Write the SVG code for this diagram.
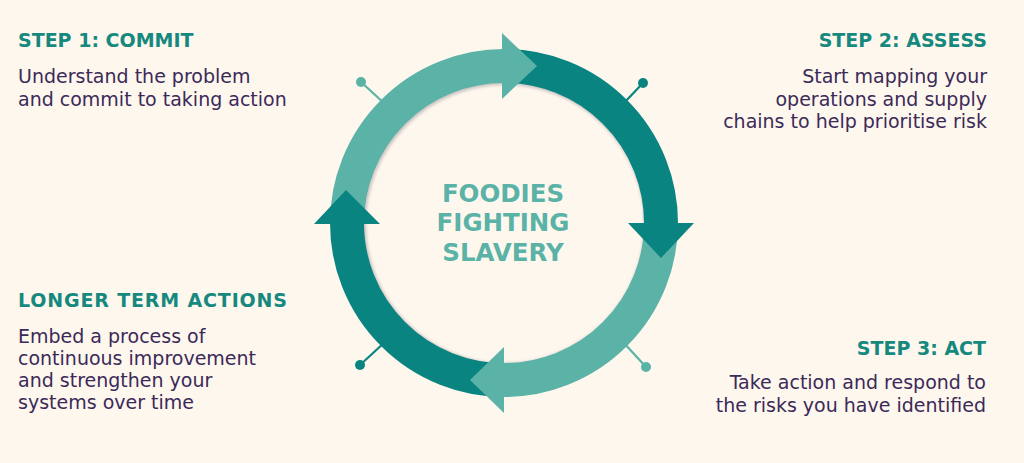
<svg xmlns="http://www.w3.org/2000/svg" width="1024" height="463" viewBox="0 0 1024 463">
<defs>
<style>
.bg{fill:#fef7ee}
.arc{fill:none;stroke-width:34}
.light{stroke:#5bb2a7}
.dark{stroke:#0a8481}
.lightf{fill:#5bb2a7}
.darkf{fill:#0a8481}
.pin{stroke-width:2.2;fill:none}
.head{font-family:"DejaVu Sans",sans-serif;font-weight:bold;font-size:19px;fill:#16897f}
.body{font-family:"DejaVu Sans",sans-serif;font-size:19px;fill:#3b2a58}
.center{font-family:"DejaVu Sans",sans-serif;font-weight:bold;font-size:24.5px;fill:#5bb2a7;text-anchor:middle}
.end{text-anchor:end}
</style>
<filter id="blur" x="-10%" y="-10%" width="120%" height="120%">
<feGaussianBlur stdDeviation="1.6"/>
</filter>
</defs>
<rect class="bg" x="0" y="0" width="1024" height="463"/>

<g id="connectors">
<line class="pin light" x1="385" y1="104" x2="361" y2="82"/>
<circle class="lightf" cx="361" cy="82" r="5"/>
<line class="pin dark" x1="623" y1="104" x2="643" y2="83"/>
<circle class="darkf" cx="643" cy="83" r="5"/>
<line class="pin light" x1="623" y1="342" x2="646" y2="367"/>
<circle class="lightf" cx="646" cy="367" r="5"/>
<line class="pin dark" x1="385" y1="342" x2="360" y2="365"/>
<circle class="darkf" cx="360" cy="365" r="5"/>
</g>

<g id="cycle">
<circle cx="505" cy="224" r="152" fill="none" stroke="#a9a2a6" stroke-width="26" opacity="0.6" filter="url(#blur)"/>
<g id="seg-commit">
<path class="arc light" d="M347 223 A157 157 0 0 1 504 66"/>
</g>
<g id="seg-assess">
<path class="arc dark" d="M504 66 A157 157 0 0 1 661 223"/>
</g>
<g id="seg-act">
<path class="arc light" d="M661 223 A157 157 0 0 1 504 380"/>
</g>
<g id="seg-longer">
<path class="arc dark" d="M504 380 A157 157 0 0 1 347 223"/>
</g>
<path class="lightf" d="M502 33 L537 66 L502 99 Z"/>
<path class="darkf" d="M628 223 L694 223 L661 258 Z"/>
<path class="lightf" d="M504 347 L470 380 L504 413 Z"/>
<path class="darkf" d="M314 224 L380 224 L346 190 Z"/>
</g>

<g id="center-label">
<text class="center" x="503" y="202">FOODIES</text>
<text class="center" x="503" y="231">FIGHTING</text>
<text class="center" x="503" y="261">SLAVERY</text>
</g>

<g id="step1">
<text class="head" x="18" y="47">STEP 1: COMMIT</text>
<text class="body" x="18" y="83">Understand the problem</text>
<text class="body" x="18" y="106">and commit to taking action</text>
</g>

<g id="step2">
<text class="head end" x="987" y="47">STEP 2: ASSESS</text>
<text class="body end" x="987" y="83">Start mapping your</text>
<text class="body end" x="987" y="106">operations and supply</text>
<text class="body end" x="987" y="128">chains to help prioritise risk</text>
</g>

<g id="step3">
<text class="head end" x="986" y="355">STEP 3: ACT</text>
<text class="body end" x="986" y="389">Take action and respond to</text>
<text class="body end" x="986" y="412">the risks you have identified</text>
</g>

<g id="longer">
<text class="head" x="18" y="307" textLength="269" lengthAdjust="spacing">LONGER TERM ACTIONS</text>
<text class="body" x="18" y="343">Embed a process of</text>
<text class="body" x="18" y="365">continuous improvement</text>
<text class="body" x="18" y="387">and strengthen your</text>
<text class="body" x="18" y="409">systems over time</text>
</g>
</svg>
